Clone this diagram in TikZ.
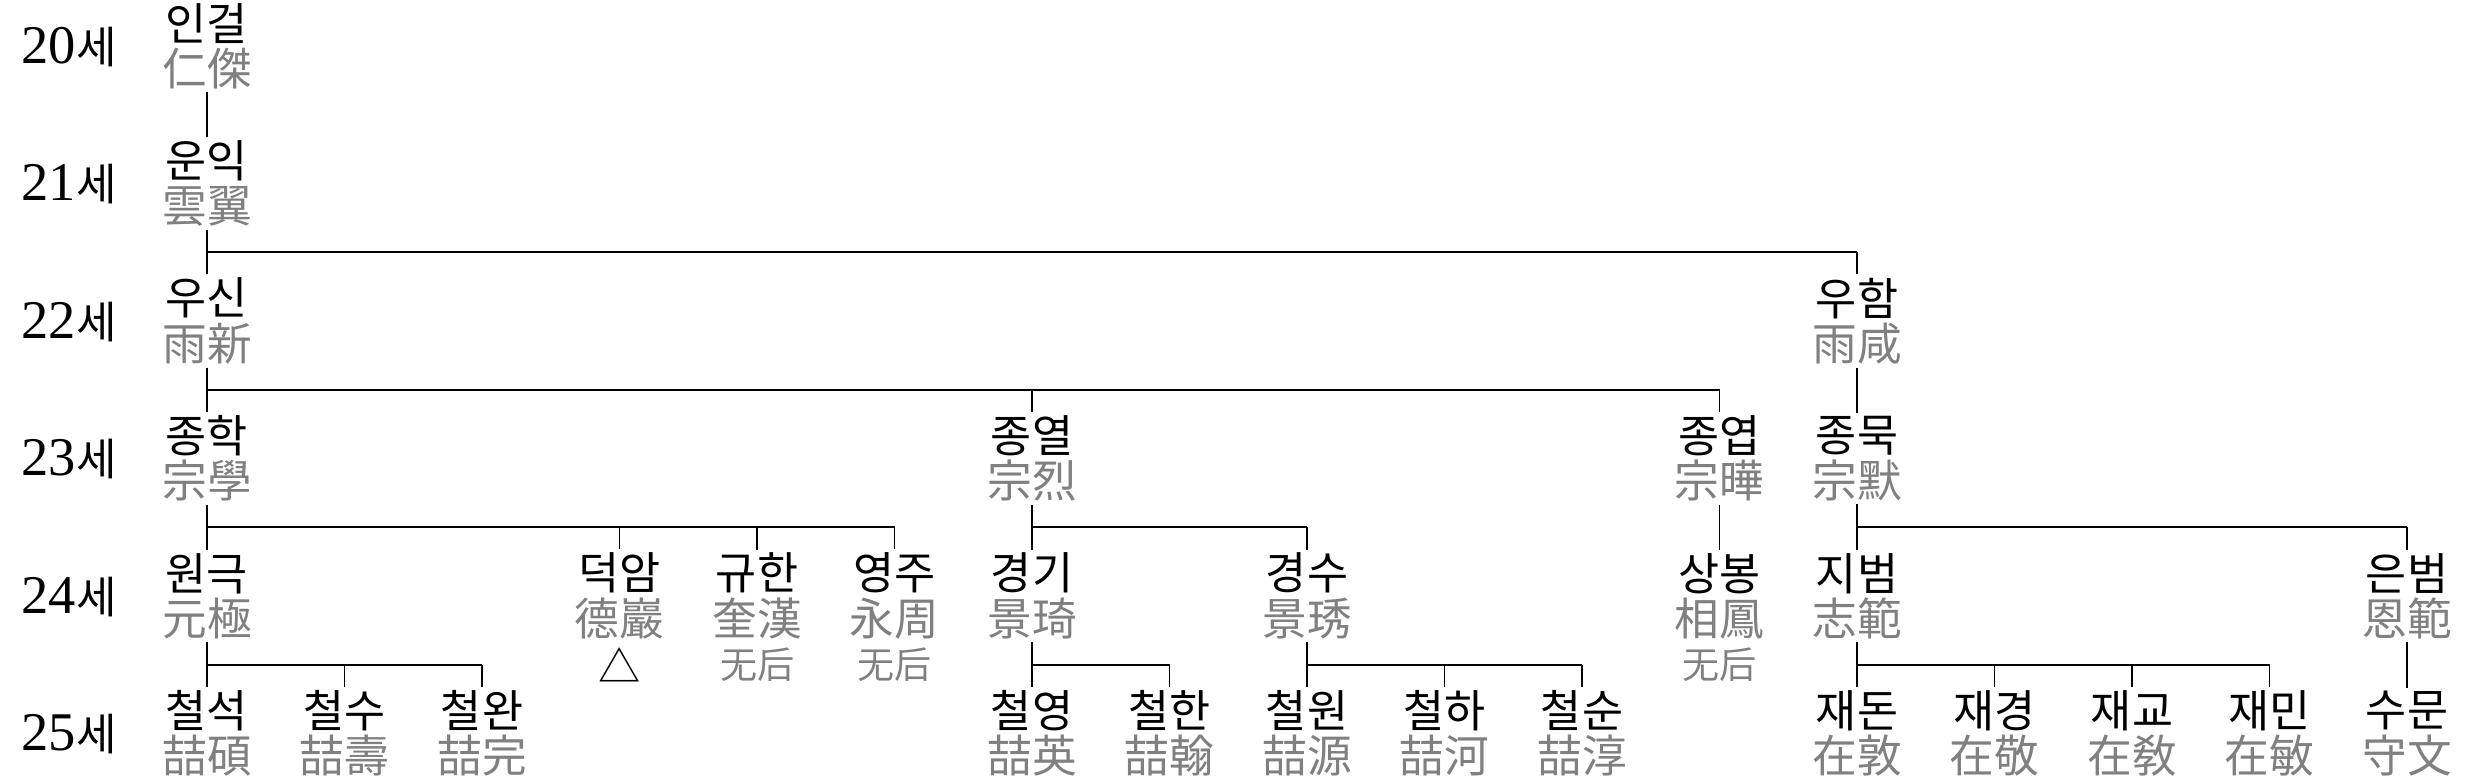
\documentclass[tikz,border=0pt]{standalone}
\usepackage{fontspec}
\newfontfamily\kr{Noto Sans CJK KR}
\newfontfamily\lsf{Liberation Serif}
\definecolor{hanja}{RGB}{128,128,128}
\newcommand\pp[5]{\node[person] (#1) at ({207+137.5*#2},{46+137.5*#3}) {#4\\\textcolor{hanja}{#5}};}
\newcommand\gn[2]{\node[gen] (g#1) at (21,{47+137.5*#2}) {{\lsf\fontsize{15.5}{15.5}\selectfont #1}{\kr\fontsize{12.5}{12.5}\selectfont 세}};}
\begin{document}
\begin{tikzpicture}[x=0.01cm,y=-0.01cm,
  person/.style={align=center,inner sep=0pt,outer sep=1pt,font=\kr\fontsize{12.7}{12.9}\selectfont},
  gen/.style={anchor=west,inner sep=0pt},
  note/.style={inner sep=0pt,text=hanja,font=\kr\fontsize{10.5}{10.5}\selectfont},
  conn/.style={line width=0.45pt,black},
  bus/.style={line width=0.65pt,black}]
\useasboundingbox (0,0) rectangle (2475,781);
% generation labels
\gn{20}{0}\gn{21}{1}\gn{22}{2}\gn{23}{3}\gn{24}{4}\gn{25}{5}
% people
\pp{a}{0}{0}{인걸}{仁傑}
\pp{b}{0}{1}{운익}{雲翼}
\pp{c1}{0}{2}{우신}{雨新}
\pp{c2}{12}{2}{우함}{雨咸}
\pp{d1}{0}{3}{종학}{宗學}
\pp{d2}{6}{3}{종열}{宗烈}
\pp{d3}{11}{3}{종엽}{宗曄}
\pp{d4}{12}{3}{종묵}{宗默}
\pp{e1}{0}{4}{원극}{元極}
\pp{e2}{3}{4}{덕암}{德巖}
\pp{e3}{4}{4}{규한}{奎漢}
\pp{e4}{5}{4}{영주}{永周}
\pp{e5}{6}{4}{경기}{景琦}
\pp{e6}{8}{4}{경수}{景琇}
\pp{e7}{11}{4}{상봉}{相鳳}
\pp{e8}{12}{4}{지범}{志範}
\pp{e9}{16}{4}{은범}{恩範}
\pp{f1}{0}{5}{철석}{喆碩}
\pp{f2}{1}{5}{철수}{喆壽}
\pp{f3}{2}{5}{철완}{喆完}
\pp{f4}{6}{5}{철영}{喆英}
\pp{f5}{7}{5}{철한}{喆翰}
\pp{f6}{8}{5}{철원}{喆源}
\pp{f7}{9}{5}{철하}{喆河}
\pp{f8}{10}{5}{철순}{喆淳}
\pp{f9}{12}{5}{재돈}{在敦}
\pp{f10}{13}{5}{재경}{在敬}
\pp{f11}{14}{5}{재교}{在敎}
\pp{f12}{15}{5}{재민}{在敏}
\pp{f13}{16}{5}{수문}{守文}
% notes
\node[inner sep=0pt,font=\kr\fontsize{12}{12}\selectfont] (tri) at (619.5,665) {△};
\node[note] (n1) at (757,665) {无后};
\node[note] (n2) at (894.5,665) {无后};
\node[note] (n3) at (1719.5,665) {无后};
% bus coordinates
\coordinate (y1) at (0,252.25);
\coordinate (y2) at (0,389.75);
\coordinate (y3) at (0,527.25);
\coordinate (y4) at (0,664.75);
% single lines
\draw[conn] (a.south) -- (b.north);
\draw[conn] (c2.south) -- (d4.north);
\draw[conn] (d3.south) -- (e7.north);
\draw[conn] (e9.south) -- (f13.north);
% b -> c1, c2
\draw[conn] (b.south) -- (b.south |- y1);
\draw[bus] (b.south |- y1) -- (c2.north |- y1);
\foreach \n in {c1,c2} \draw[conn] (\n.north) -- (\n.north |- y1);
% c1 -> d1 d2 d3
\draw[conn] (c1.south) -- (c1.south |- y2);
\draw[bus] (c1.south |- y2) -- (d3.north |- y2);
\foreach \n in {d1,d2,d3} \draw[conn] (\n.north) -- (\n.north |- y2);
% d1 -> e1..e4
\draw[conn] (d1.south) -- (d1.south |- y3);
\draw[bus] (d1.south |- y3) -- (e4.north |- y3);
\foreach \n in {e1,e2,e3,e4} \draw[conn] (\n.north) -- (\n.north |- y3);
% d2 -> e5 e6
\draw[conn] (d2.south) -- (d2.south |- y3);
\draw[bus] (d2.south |- y3) -- (e6.north |- y3);
\foreach \n in {e5,e6} \draw[conn] (\n.north) -- (\n.north |- y3);
% d4 -> e8 e9
\draw[conn] (d4.south) -- (d4.south |- y3);
\draw[bus] (d4.south |- y3) -- (e9.north |- y3);
\foreach \n in {e8,e9} \draw[conn] (\n.north) -- (\n.north |- y3);
% e1 -> f1 f2 f3
\draw[conn] (e1.south) -- (e1.south |- y4);
\draw[bus] (e1.south |- y4) -- (f3.north |- y4);
\foreach \n in {f1,f2,f3} \draw[conn] (\n.north) -- (\n.north |- y4);
% e5 -> f4 f5
\draw[conn] (e5.south) -- (e5.south |- y4);
\draw[bus] (e5.south |- y4) -- (f5.north |- y4);
\foreach \n in {f4,f5} \draw[conn] (\n.north) -- (\n.north |- y4);
% e6 -> f6 f7 f8
\draw[conn] (e6.south) -- (e6.south |- y4);
\draw[bus] (e6.south |- y4) -- (f8.north |- y4);
\foreach \n in {f6,f7,f8} \draw[conn] (\n.north) -- (\n.north |- y4);
% e8 -> f9..f12
\draw[conn] (e8.south) -- (e8.south |- y4);
\draw[bus] (e8.south |- y4) -- (f12.north |- y4);
\foreach \n in {f9,f10,f11,f12} \draw[conn] (\n.north) -- (\n.north |- y4);
\end{tikzpicture}
\end{document}
